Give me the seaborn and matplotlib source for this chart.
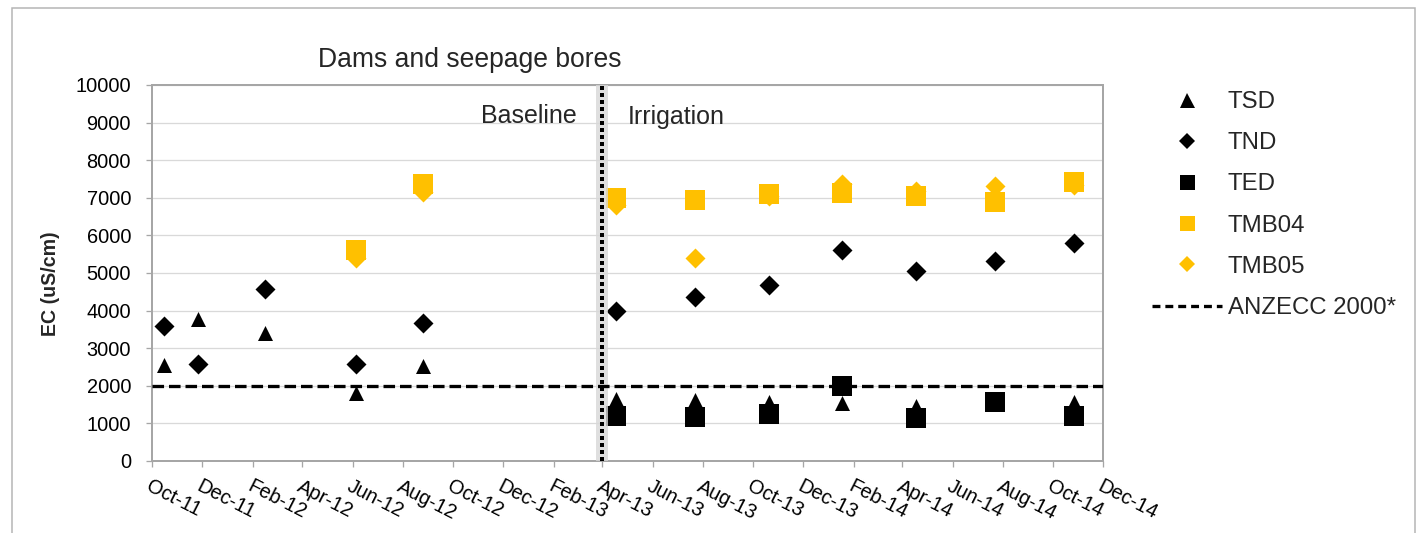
import numpy as np
import pandas as pd
import matplotlib
matplotlib.use("Agg")
import matplotlib.pyplot as plt
import matplotlib.dates as mdates
from matplotlib.lines import Line2D
from matplotlib.patches import Rectangle
import seaborn as sns

# ---------------- data ----------------
tsd_dates = ["2011-10-15", "2011-11-26", "2012-02-16", "2012-06-05", "2012-08-26",
             "2013-04-18", "2013-07-23", "2013-10-21", "2014-01-18", "2014-04-17",
             "2014-10-27"]
tsd_values = [2550, 3780, 3400, 1800, 2520, 1650, 1620, 1560, 1530, 1450, 1580]

tnd_dates = ["2011-10-15", "2011-11-26", "2012-02-16", "2012-06-05", "2012-08-26",
             "2013-04-18", "2013-07-23", "2013-10-21", "2014-01-18", "2014-04-17",
             "2014-07-23", "2014-10-27"]
tnd_values = [3600, 2570, 4580, 2580, 3670, 4000, 4350, 4680, 5600, 5050, 5310, 5800]

ted_dates = ["2013-04-18", "2013-07-23", "2013-10-21", "2014-01-18", "2014-04-17",
             "2014-07-23", "2014-10-27"]
ted_values = [1200, 1180, 1240, 2000, 1150, 1560, 1200]

tmb04_dates = ["2012-06-05", "2012-08-26", "2013-04-18", "2013-07-23", "2013-10-21",
               "2014-01-18", "2014-04-17", "2014-07-23", "2014-10-27"]
tmb04_values = [5600, 7380, 7000, 6950, 7100, 7140, 7040, 6900, 7420]

tmb05_dates = ["2012-06-05", "2012-08-26", "2013-04-18", "2013-07-23", "2013-10-21",
               "2014-01-18", "2014-04-17", "2014-07-23", "2014-10-27"]
tmb05_values = [5400, 7150, 6800, 5400, 7050, 7380, 7170, 7310, 7340]

anzecc_value = 2000
irrigation_start = "2013-04-01"
x_start, x_end = "2011-10-01", "2014-12-01"
y_ticks = list(range(0, 10001, 1000))

title_text = "Dams and seepage bores"
ylabel_text = "EC (uS/cm)"
phase_labels = ["Baseline", "Irrigation"]
series_names = ["TSD", "TND", "TED", "TMB04", "TMB05", "ANZECC 2000*"]

GOLD = "#FFC000"
BLACK = "#000000"

# ---------------- figure ----------------
sns.set_theme(style="white")
plt.rcParams["font.family"] = ["Liberation Sans", "DejaVu Sans"]

W, H = 1420, 533
fig = plt.figure(figsize=(W / 100, H / 100), dpi=100)
ax = fig.add_axes([152 / W, 1 - 461 / H, (1103 - 152) / W, (461 - 85) / H])

px = 0.72  # points per pixel

def scatter(dates, values, marker, size_px, color, label, z):
    df = pd.DataFrame({"date": pd.to_datetime(dates), "value": values})
    sns.scatterplot(data=df, x="date", y="value", marker=marker,
                    s=(size_px * px) ** 2, color=color, linewidth=0,
                    ax=ax, zorder=z, legend=False)

scatter(tsd_dates, tsd_values, "^", 15, BLACK, "TSD", 3)
scatter(tnd_dates, tnd_values, "D", 20 / 1.414, BLACK, "TND", 3)
scatter(ted_dates, ted_values, "s", 20, BLACK, "TED", 4)
scatter(tmb05_dates, tmb05_values, "D", 20 / 1.414, GOLD, "TMB05", 4)
scatter(tmb04_dates, tmb04_values, "s", 20, GOLD, "TMB04", 5)

# reference lines
ax.axhline(anzecc_value, color=BLACK, lw=3.3 * px, linestyle=(0, (3.5, 1.5)), zorder=6)
vx = pd.Timestamp(irrigation_start)
ax.axvline(vx, color="#d8d8d8", lw=12 * px, zorder=5, alpha=0.8)
ax.axvline(vx, color=BLACK, lw=4 * px, linestyle=(0, (1, 0.75)), zorder=7)

# axes
ax.set_xlim(pd.Timestamp(x_start), pd.Timestamp(x_end))
ax.set_ylim(0, 10000)
ax.set_yticks(y_ticks)
ax.xaxis.set_major_locator(mdates.MonthLocator(bymonth=[2, 4, 6, 8, 10, 12]))
ax.xaxis.set_major_formatter(mdates.DateFormatter("%b-%y"))
ax.grid(axis="y", color="#d9d9d9", lw=1.3 * px, zorder=0)
ax.grid(axis="x", visible=False)
ax.set_axisbelow(True)
for sp in ax.spines.values():
    sp.set_color("#a6a6a6")
    sp.set_linewidth(2 * px)
ax.tick_params(axis="both", which="major", length=6 * px, width=1.3 * px,
               color="#a6a6a6", direction="out", labelcolor="black")
ax.tick_params(axis="y", labelsize=20 * px, pad=15 * px, left=True)
ax.tick_params(axis="x", labelsize=20 * px, pad=10 * px, bottom=True)
for lab in ax.get_xticklabels():
    lab.set_rotation(-27)
    lab.set_ha("left")
    lab.set_va("top")
    lab.set_rotation_mode("anchor")

ax.set_xlabel("")
ax.set_ylabel(ylabel_text, fontsize=19.7 * px, fontweight="bold")
ax.yaxis.set_label_coords((60 - 152) / (1103 - 152), (461 - 284) / (461 - 85))

# texts
fig.text(470 / W, 1 - 60 / H, title_text, fontsize=26.5 * px, ha="center", va="center")
fig.text(577 / W, 1 - 116 / H, phase_labels[0], fontsize=25 * px, ha="right", va="center")
fig.text(628 / W, 1 - 117 / H, phase_labels[1], fontsize=25 * px, ha="left", va="center")

# legend
lw_leg = 3.3 * px
handles = [
    Line2D([], [], marker="^", color=BLACK, ls="none", markersize=15 * px, mew=0),
    Line2D([], [], marker="D", color=BLACK, ls="none", markersize=15 * px / 1.414, mew=0),
    Line2D([], [], marker="s", color=BLACK, ls="none", markersize=15 * px, mew=0),
    Line2D([], [], marker="s", color=GOLD, ls="none", markersize=15 * px, mew=0),
    Line2D([], [], marker="D", color=GOLD, ls="none", markersize=15 * px / 1.414, mew=0),
    Line2D([], [], color=BLACK, lw=lw_leg, ls=(0, (2.4, 1.5))),
]
fig.legend(handles, series_names, loc="upper left",
           bbox_to_anchor=(1152 / W, 1 - 91 / H), bbox_transform=fig.transFigure,
           frameon=False, fontsize=24 * px, handlelength=2.9, handletextpad=0.25,
           labelspacing=0.8, borderpad=0, borderaxespad=0)

# outer border
fig.patches.append(Rectangle((12 / W, -0.1), (1415 - 12) / W, 1.1 - 8 / H,
                             transform=fig.transFigure, fill=False,
                             edgecolor="#b4b4b4", lw=1.5 * px))

fig.savefig("out.png", dpi=100)
